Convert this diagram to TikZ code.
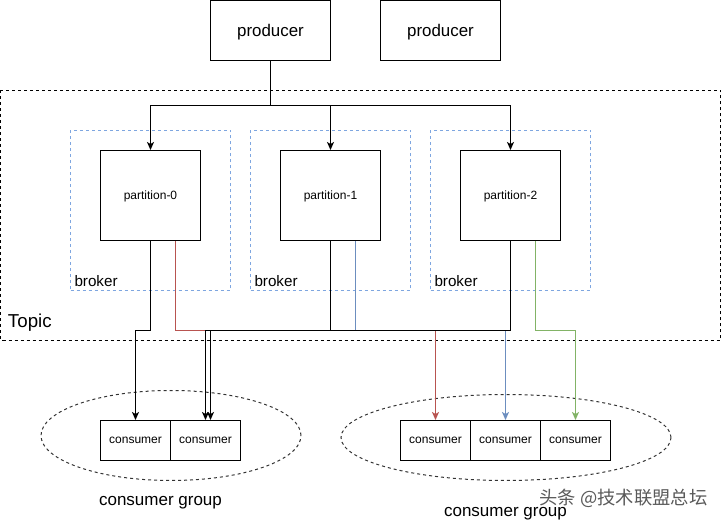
\documentclass[tikz,border=0pt]{standalone}
\usepackage{fontspec}
\setmainfont{Liberation Sans}
\newfontfamily\cjk{Noto Sans CJK SC}
\usepackage{xcolor}
\definecolor{linedark}{HTML}{000000}
\definecolor{brokerblue}{HTML}{7EA6E0}
\definecolor{edgered}{HTML}{B85450}
\definecolor{edgeblue}{HTML}{6C8EBF}
\definecolor{edgegreen}{HTML}{82B366}
\definecolor{groupgray}{HTML}{333333}
\definecolor{markgray}{HTML}{5A5A5A}
\usetikzlibrary{arrows.meta,positioning,calc}

\begin{document}
\begin{tikzpicture}[x=1pt, y=-1pt, line width=1pt,
    box/.style={draw=linedark, inner sep=0pt, text depth=0pt},
    flow/.style={-{Stealth[length=8pt, width=7pt, inset=2pt]}, line width=1pt}]
  \useasboundingbox (0,0) rectangle (721,521);
  \begin{scope}[shift={(0.5,0.5)}]
  % Topic frame
  \draw[dash pattern=on 3pt off 3pt] (0,90) rectangle (720,340);
  \node[anchor=base west, inner sep=0pt, font=\fontsize{18.7}{22}\selectfont] (topic) at (7,327) {Topic};
  % Producers
  \node[box, minimum width=120pt, minimum height=60pt, font=\fontsize{16.9}{20}\selectfont] (prodA) at (270,30) {producer};
  \node[box, minimum width=120pt, minimum height=60pt, font=\fontsize{16.9}{20}\selectfont] (prodB) at (440,30) {producer};
  % Brokers with partitions
  \foreach \i/\x in {0/150, 1/330, 2/510} {
    \node[draw=brokerblue, dash pattern=on 3pt off 3pt, minimum width=160pt, minimum height=160pt] (br\i) at (\x,210) {};
    \node[anchor=base west, inner sep=0pt, font=\fontsize{15.2}{18}\selectfont] at ($(br\i.south west)+(4,-4)$) {broker};
    \node[box, fill=white, minimum width=100pt, minimum height=90pt, font=\fontsize{12}{14}\selectfont] (p\i) at (\x,195) {partition-\i};
  }
  % Consumer groups
  \draw[groupgray, dash pattern=on 3pt off 3pt] (170.5,435) ellipse (130pt and 45pt);
  \draw[groupgray, dash pattern=on 3pt off 3pt] (505.5,437) ellipse (165pt and 43pt);
  \foreach \n/\x in {ca1/135, ca2/205, cb1/435, cb2/505, cb3/575}
    \node[box, fill=white, minimum width=70pt, minimum height=40pt, font=\fontsize{12}{14}\selectfont] (\n) at (\x,440) {consumer};
  \node[font=\fontsize{17}{20}\selectfont] (grpA) at (160,502) {consumer group};
  \node[font=\fontsize{17}{20}\selectfont] (grpB) at (505,513) {consumer group};
  % Producer to partitions
  \coordinate (split) at (0,105);
  \foreach \i in {0,1,2}
    \draw[flow] (prodA.south) -- (prodA.south |- split) -| (p\i.north);
  % Colored routes
  \coordinate (bus) at (0,330);
  \coordinate (r0) at ($(p0.south)!0.5!(p0.south east)$);
  \coordinate (r1) at ($(p1.south)!0.5!(p1.south east)$);
  \coordinate (r2) at ($(p2.south)!0.5!(p2.south east)$);
  \draw[flow, edgered] (r0) -- (r0 |- bus) -| (cb1.north);
  \draw[flow, edgeblue] (r1) -- (r1 |- bus) -| (cb2.north);
  \draw[flow, edgegreen] (r2) -- (r2 |- bus) -| (cb3.north);
  % Black routes
  \draw[flow] (p0.south) -- (p0.south |- bus) -| (ca1.north);
  \draw[flow] (p1.south) -- (p1.south |- bus) -| (ca2.north);
  \draw[flow] (p2.south) -- (p2.south |- bus) -| ($(ca2.north)+(5,0)$);
  % Watermark
  \node[markgray, font=\cjk\fontsize{18.3}{22}\selectfont] (mark) at (623,498) {头条 @技术联盟总坛};
  \end{scope}
\end{tikzpicture}
\end{document}
